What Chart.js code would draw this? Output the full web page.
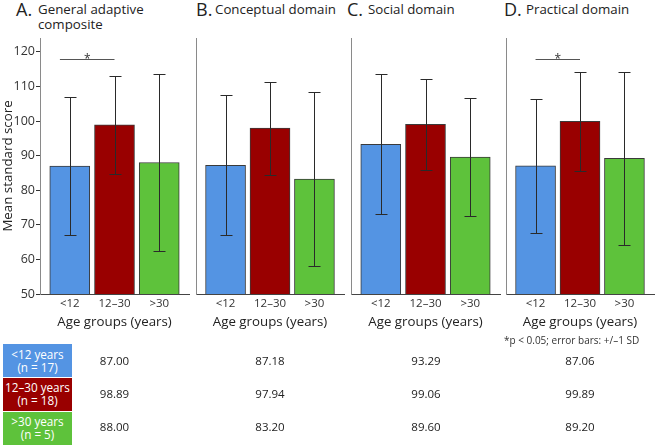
<!DOCTYPE html>
<html>
<head>
<meta charset="utf-8">
<script src="https://cdn.jsdelivr.net/npm/chart.js@4"></script>
<style>
  body { margin: 0; background: #fff; font-family: 'Open Sans', sans-serif; color: #222; }
  #wrap { position: relative; width: 656px; height: 447px; overflow: hidden; }
  canvas { position: absolute; top: 0; }
  .t { position: absolute; white-space: nowrap; }
  .letter { font-size: 18px; line-height: 18px; top: 0; }
  .title { font-size: 13.3px; line-height: 15px; top: 2px; }
  .cell { position: absolute; left: 3px; width: 69px; height: 33px; color: #fff; font-size: 11.7px;
          line-height: 13px; text-align: center; display: flex; flex-direction: column; justify-content: center; }
  .val { position: absolute; width: 80px; text-align: center; font-size: 11.5px; line-height: 16px; }
  .note { position: absolute; left: 504px; top: 334px; font-size: 10px; line-height: 12px; color: #333; white-space: nowrap; }
</style>
</head>
<body>
<div id="wrap"></div>
<script>
// categories and series
const ageGroups = ['<12', '12–30', '>30'];
const groupNames = ['<12 years', '12–30 years', '>30 years'];
const groupN = ['(n = 17)', '(n = 18)', '(n = 5)'];
const groupColors = ['#5494e3', '#990000', '#5ec23b'];
const panelLetters = ['A.', 'B.', 'C.', 'D.'];
const panelTitles = ['General adaptive composite', 'Conceptual domain', 'Social domain', 'Practical domain'];
const yTicks = [50, 60, 70, 80, 90, 100, 110, 120];

const generalMeans = [87.00, 98.89, 88.00];
const generalSD = [19.9, 14.2, 25.5];
const conceptualMeans = [87.18, 97.94, 83.20];
const conceptualSD = [20.2, 13.4, 25.1];
const socialMeans = [93.29, 99.06, 89.60];
const socialSD = [20.3, 13.2, 17.0];
const practicalMeans = [87.06, 99.89, 89.20];
const practicalSD = [19.4, 14.4, 25.1];

// significance brackets (category units) and level
const sigA = [-0.22, 1];
const sigD = [0, 1];
const sigLevel = 117.8;

const FONT = "'Open Sans', sans-serif";
const CH = 335;

const panels = [
  { means: generalMeans, sd: generalSD, sig: sigA, left: 0, width: 192, yWidth: 40, padRight: 3, yLabels: true },
  { means: conceptualMeans, sd: conceptualSD, sig: null, left: 192, width: 156, yWidth: 4, padRight: 4 },
  { means: socialMeans, sd: socialSD, sig: null, left: 347, width: 156, yWidth: 4, padRight: 3 },
  { means: practicalMeans, sd: practicalSD, sig: sigD, left: 502, width: 154, yWidth: 4, padRight: 2 }
];

const wrap = document.getElementById('wrap');

function addText(cls, left, html, extra) {
  const d = document.createElement('div');
  d.className = 't ' + cls;
  d.style.left = left + 'px';
  d.innerHTML = html;
  if (extra) Object.assign(d.style, extra);
  wrap.appendChild(d);
}

// panel titles
const letterX = [16, 196, 347, 504];
const titleX = [38, 215, 368, 526];
panelLetters.forEach((l, i) => {
  addText('letter', letterX[i], l);
  const extra = i === 0 ? { whiteSpace: 'normal', width: '112px' } : null;
  addText('title', titleX[i], panelTitles[i], extra);
});

function makePlugin(p) {
  return {
    id: 'errorBars',
    afterDatasetsDraw(chart) {
      const { ctx, scales: { x, y } } = chart;
      ctx.save();
      ctx.strokeStyle = '#2a2a2a';
      ctx.lineWidth = 1;
      p.means.forEach((m, i) => {
        const px = Math.round(x.getPixelForValue(i)) + 0.5;
        const top = Math.round(y.getPixelForValue(m + p.sd[i])) + 0.5;
        const bot = Math.round(y.getPixelForValue(m - p.sd[i])) + 0.5;
        ctx.beginPath();
        ctx.moveTo(px, top); ctx.lineTo(px, bot);
        ctx.moveTo(px - 6, top); ctx.lineTo(px + 6, top);
        ctx.moveTo(px - 6, bot); ctx.lineTo(px + 6, bot);
        ctx.stroke();
      });
      if (p.sig) {
        const x1 = x.getPixelForValue(p.sig[0]);
        const x2 = x.getPixelForValue(p.sig[1]);
        const sy = Math.round(y.getPixelForValue(sigLevel)) + 0.5;
        ctx.strokeStyle = '#555';
        ctx.beginPath();
        ctx.moveTo(x1, sy); ctx.lineTo(x2, sy);
        ctx.stroke();
        ctx.fillStyle = '#333';
        ctx.font = '12px ' + FONT;
        ctx.textAlign = 'center';
        ctx.textBaseline = 'alphabetic';
        ctx.fillText('*', (x1 + x2) / 2, sy + 3);
      }
      ctx.restore();
    }
  };
}

panels.forEach((p, k) => {
  const cv = document.createElement('canvas');
  cv.width = p.width;
  cv.height = CH;
  cv.style.left = p.left + 'px';
  wrap.appendChild(cv);

  new Chart(cv.getContext('2d'), {
    type: 'bar',
    data: {
      datasets: [{
        data: p.means.map((v, i) => ({ x: i, y: v })),
        backgroundColor: groupColors,
        borderColor: '#3a3a3a',
        borderWidth: 1,
        borderSkipped: false,
        barThickness: 40
      }]
    },
    options: {
      responsive: false,
      animation: false,
      devicePixelRatio: 1,
      layout: { padding: { top: 38, right: p.padRight, left: 0, bottom: 0 } },
      plugins: { legend: { display: false }, tooltip: { enabled: false } },
      scales: {
        x: {
          type: 'linear',
          min: -0.665,
          max: 2.665,
          bounds: 'data',
          offset: false,
          grid: { display: false, offset: false },
          border: { display: true, color: '#444', width: 1 },
          afterBuildTicks: s => { s.ticks = ageGroups.map((g, i) => ({ value: i })); },
          afterFit: s => { s.height = CH - 294; },
          ticks: {
            padding: -5,
            color: '#333',
            font: { family: FONT, size: 11.5 },
            callback: v => ageGroups[v]
          },
          title: {
            display: true,
            text: 'Age groups (years)',
            color: '#222',
            font: { family: FONT, size: 13.3 },
            padding: { top: 0, bottom: 5 }
          }
        },
        y: {
          min: 50,
          max: 124,
          bounds: 'data',
          grid: {
            display: !!p.yLabels,
            drawOnChartArea: false,
            drawTicks: true,
            tickLength: 4,
            color: '#333'
          },
          border: { display: true, color: '#8a8a8a', width: 1 },
          afterBuildTicks: s => { s.ticks = yTicks.map(v => ({ value: v })); },
          afterFit: s => { s.width = p.yWidth; },
          ticks: {
            display: !!p.yLabels,
            padding: 1,
            color: '#333',
            font: { family: FONT, size: 12.5 }
          },
          title: {
            display: !!p.yLabels,
            text: 'Mean standard score',
            color: '#222',
            font: { family: FONT, size: 13.3 },
            padding: 0
          }
        }
      }
    },
    plugins: [makePlugin(p)]
  });
});

// footnote
const note = document.createElement('div');
note.className = 'note';
note.textContent = '*p < 0.05; error bars: +/–1 SD';
wrap.appendChild(note);

// table under the panels
const rowTops = [344, 377.5, 411.5];
const rowCenters = [361.7, 394, 427];
const colCenters = [114.5, 270, 426, 580];
const tableMeans = [generalMeans, conceptualMeans, socialMeans, practicalMeans];
groupNames.forEach((name, r) => {
  const c = document.createElement('div');
  c.className = 'cell';
  c.style.top = rowTops[r] + 'px';
  c.style.background = groupColors[r];
  c.innerHTML = '<div>' + name.replace('<', '&lt;').replace('>', '&gt;') + '</div><div>' + groupN[r] + '</div>';
  wrap.appendChild(c);
  tableMeans.forEach((col, k) => {
    const v = document.createElement('div');
    v.className = 'val';
    v.style.left = (colCenters[k] - 40) + 'px';
    v.style.top = (rowCenters[r] - 8.4) + 'px';
    v.textContent = col[r].toFixed(2);
    wrap.appendChild(v);
  });
});
</script>
</body>
</html>
